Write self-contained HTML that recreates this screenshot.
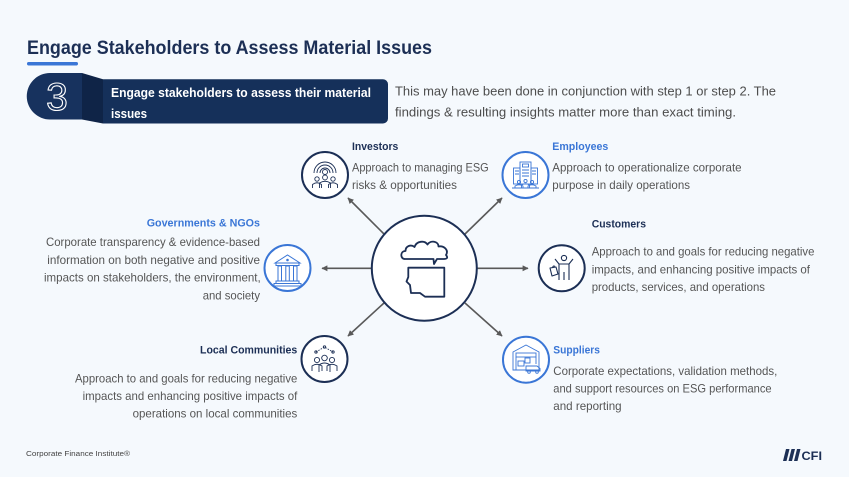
<!DOCTYPE html>
<html>
<head>
<meta charset="utf-8">
<style>
html,body{margin:0;padding:0;background:#f5f9fd;}
svg{display:block;}
text{font-family:"Liberation Sans",Arial,sans-serif;}
</style>
</head>
<body>
<svg width="849" height="477" viewBox="0 0 849 477" xmlns="http://www.w3.org/2000/svg">
<defs>
<marker id="ah" viewBox="0 0 10 10" refX="9" refY="5" markerWidth="6" markerHeight="6" markerUnits="userSpaceOnUse" orient="auto">
<path d="M0,0 L10,5 L0,10 Z" fill="#595959"/>
</marker>
</defs>
<rect x="0" y="0" width="849" height="477" fill="#f5f9fd"/>

<!-- Title -->
<text x="27" y="54" font-size="19" font-weight="bold" fill="#1c2f55" textLength="405" lengthAdjust="spacingAndGlyphs">Engage Stakeholders to Assess Material Issues</text>
<rect x="27" y="62" width="51" height="3.5" rx="1.7" fill="#3a76d6"/>

<!-- Badge -->
<path d="M50,73 H82 V119.5 H50 A23.25,23.25 0 0 1 50,73 Z" fill="#17325e"/>
<path d="M82,73 L103,79.3 L103,123.5 L82,119.5 Z" fill="#0f2447"/>
<path d="M103,79.3 H383 A5,5 0 0 1 388,84.3 V118.5 A5,5 0 0 1 383,123.5 H103 Z" fill="#15305a"/>
<text x="57" y="110" font-size="39" text-anchor="middle" fill="none" stroke="#ffffff" stroke-width="1.1">3</text>
<text x="111" y="97" font-size="12.8" font-weight="bold" fill="#ffffff" textLength="260" lengthAdjust="spacingAndGlyphs">Engage stakeholders to assess their material</text>
<text x="111" y="118" font-size="12.8" font-weight="bold" fill="#ffffff" textLength="36" lengthAdjust="spacingAndGlyphs">issues</text>

<!-- Intro -->
<text x="395" y="95.5" font-size="12.8" fill="#4d4d4d" textLength="381" lengthAdjust="spacingAndGlyphs">This may have been done in conjunction with step 1 or step 2. The</text>
<text x="395" y="116.5" font-size="12.8" fill="#4d4d4d" textLength="341" lengthAdjust="spacingAndGlyphs">findings &amp; resulting insights matter more than exact timing.</text>

<!-- Arrows -->
<g stroke="#595959" stroke-width="1.6" fill="none" marker-end="url(#ah)">
<line x1="384" y1="234" x2="348" y2="198"/>
<line x1="465" y1="234" x2="502" y2="198"/>
<line x1="372" y1="268.3" x2="322" y2="268.3"/>
<line x1="477" y1="268.3" x2="528" y2="268.3"/>
<line x1="384" y1="303" x2="348" y2="336"/>
<line x1="465" y1="303" x2="502" y2="336"/>
</g>

<!-- Center -->
<circle cx="424.3" cy="268.3" r="52.5" fill="#ffffff" stroke="#1c2f55" stroke-width="2"/>
<path d="M405,259 C400,259 400,251 405.5,251 C405.5,246 411,244 414.5,247 C416.5,241 424.5,240 427.5,244.5 C430.5,240 438.5,241 438.5,246.5 C444,245.5 449,250 446,255 C448.5,258 446.5,259 444,259 L437,259 L434,264 L433.5,259 Z" fill="none" stroke="#1c2f55" stroke-width="1.8" stroke-linejoin="round"/>
<path d="M408.3,267.7 L444.3,267.7 L444.3,296.7 L425,296.7 L420,293 L411,293 L410,285 L406.5,281.5 L408.3,277 Z" fill="none" stroke="#1c2f55" stroke-width="1.8" stroke-linejoin="round"/>

<!-- Icon circles -->
<circle cx="325" cy="175" r="23" fill="#ffffff" stroke="#1c2f55" stroke-width="2"/>
<circle cx="525.5" cy="175" r="23" fill="#ffffff" stroke="#3a76d6" stroke-width="2"/>
<circle cx="287.5" cy="268" r="23" fill="#ffffff" stroke="#3a76d6" stroke-width="2"/>
<circle cx="561.7" cy="268.3" r="23" fill="#ffffff" stroke="#1c2f55" stroke-width="2"/>
<circle cx="324.5" cy="359" r="23" fill="#ffffff" stroke="#1c2f55" stroke-width="2"/>
<circle cx="526" cy="359.7" r="23" fill="#ffffff" stroke="#3a76d6" stroke-width="2"/>

<!-- Investors icon -->
<g fill="none" stroke="#1c2f55" stroke-width="0.9">
<path d="M314,173 A11,11 0 0 1 336,173"/>
<path d="M317,173 A8,8 0 0 1 333,173"/>
<path d="M320,173 A5,5 0 0 1 330,173"/>
<circle cx="325" cy="172" r="2.5"/>
<circle cx="317" cy="179" r="2.2"/>
<circle cx="325" cy="177.5" r="2.4"/>
<circle cx="333" cy="179" r="2.2"/>
<path d="M312.5,188 V184.5 Q317,181 321.5,184.5 V188"/>
<path d="M319.5,188 V183 Q325,179.5 330.5,183 V188"/>
<path d="M328.5,188 V184.5 Q333,181 337.5,184.5 V188"/>
</g>

<!-- Employees icon -->
<g fill="none" stroke="#3a76d6" stroke-width="0.9">
<rect x="520" y="162" width="11" height="22"/>
<rect x="513.5" y="168" width="6.5" height="16"/>
<rect x="531" y="168" width="6.5" height="16"/>
<rect x="522.5" y="164" width="6" height="3"/>
<path d="M522,170h7M522,173h7M522,176h7M515,171h4M515,174h4M532,171h4M532,174h4"/>
<circle cx="519" cy="182" r="1.6"/><circle cx="525.5" cy="181" r="1.6"/><circle cx="532" cy="182" r="1.6"/>
<path d="M515,188 V186 Q519,183.5 523,186 V188 M521.5,188 V185 Q525.5,182.5 529.5,185 V188 M528,188 V186 Q532,183.5 536,186 V188"/>
<line x1="512" y1="188" x2="539" y2="188"/>
</g>

<!-- Governments icon -->
<g fill="none" stroke="#3a76d6" stroke-width="1">
<path d="M275,263 L287.5,255 L300,263 Z"/>
<rect x="276" y="263" width="23" height="2.5"/>
<rect x="278" y="266" width="3.5" height="15"/>
<rect x="285.8" y="266" width="3.5" height="15"/>
<rect x="293.5" y="266" width="3.5" height="15"/>
<rect x="276" y="281" width="23" height="2.5"/>
<rect x="274" y="283.5" width="27" height="2.5"/>
<circle cx="287.5" cy="260" r="0.8" fill="#3a76d6"/>
</g>

<!-- Customers icon -->
<g fill="none" stroke="#1c2f55" stroke-width="1.1" stroke-linejoin="round">
<circle cx="564" cy="258" r="2.6"/>
<path d="M555,259 L559,264 L559,280 M569,280 L569,264 L573,259 M559,264 H569 M564,272 V280"/>
<path d="M550,268 L556,267 L558,274 L552,276 Z"/>
<path d="M552.5,268 Q553,265 555,266.5"/>
</g>

<!-- Local Communities icon -->
<g fill="none" stroke="#1c2f55" stroke-width="0.9">
<path d="M316,352 L324.5,347 L333,352" stroke-dasharray="1.5,1.2"/>
<circle cx="316" cy="352" r="1.2"/><circle cx="324.5" cy="347" r="1.2"/><circle cx="333" cy="352" r="1.2"/>
<circle cx="317" cy="360" r="2.6"/><circle cx="324.5" cy="358" r="2.8"/><circle cx="332" cy="360" r="2.6"/>
<path d="M312,371 V366 Q317,362.5 322,366 V371 M319,372 V365 Q324.5,361 330,365 V372 M327,371 V366 Q332,362.5 337,366 V371"/>
</g>

<!-- Suppliers icon -->
<g fill="none" stroke="#3a76d6" stroke-width="0.9">
<path d="M513,352 L526,345 L539,352 V370 H513 Z"/>
<rect x="516" y="353" width="20" height="4"/>
<path d="M516,357 V370 M536,357 V364"/>
<rect x="518" y="361" width="6" height="5"/>
<rect x="525" y="358" width="5" height="5"/>
<path d="M526,366 H537 L540,368.5 V371 H526 Z"/>
<circle cx="529" cy="372" r="1.3"/><circle cx="537" cy="372" r="1.3"/>
</g>

<!-- Investors text -->
<text x="352" y="150" font-size="11" font-weight="bold" fill="#1c2f55" textLength="46.3" lengthAdjust="spacingAndGlyphs">Investors</text>
<g font-size="11.6" fill="#555555">
<text x="352" y="171.5" textLength="136.7" lengthAdjust="spacingAndGlyphs">Approach to managing ESG</text>
<text x="352" y="189" textLength="105" lengthAdjust="spacingAndGlyphs">risks &amp; opportunities</text>
</g>

<!-- Employees text -->
<text x="552.3" y="150" font-size="11" font-weight="bold" fill="#3a76d6" textLength="56" lengthAdjust="spacingAndGlyphs">Employees</text>
<g font-size="11.6" fill="#555555">
<text x="552.3" y="171.5" textLength="189.3" lengthAdjust="spacingAndGlyphs">Approach to operationalize corporate</text>
<text x="552.3" y="189" textLength="137.7" lengthAdjust="spacingAndGlyphs">purpose in daily operations</text>
</g>

<!-- Customers text -->
<text x="591.7" y="227.3" font-size="11" font-weight="bold" fill="#1c2f55" textLength="54.3" lengthAdjust="spacingAndGlyphs">Customers</text>
<g font-size="11.6" fill="#555555">
<text x="591.7" y="255.7" textLength="222.7" lengthAdjust="spacingAndGlyphs">Approach to and goals for reducing negative</text>
<text x="591.7" y="273.3" textLength="218.3" lengthAdjust="spacingAndGlyphs">impacts, and enhancing positive impacts of</text>
<text x="591.7" y="291" textLength="173.3" lengthAdjust="spacingAndGlyphs">products, services, and operations</text>
</g>

<!-- Governments text -->
<text x="146.7" y="226.7" font-size="11" font-weight="bold" fill="#3a76d6" textLength="113.3" lengthAdjust="spacingAndGlyphs">Governments &amp; NGOs</text>
<g font-size="11.6" fill="#555555">
<text x="46" y="246" textLength="214" lengthAdjust="spacingAndGlyphs">Corporate transparency &amp; evidence-based</text>
<text x="47.3" y="264" textLength="212.7" lengthAdjust="spacingAndGlyphs">information on both negative and positive</text>
<text x="44" y="281.7" textLength="216.7" lengthAdjust="spacingAndGlyphs">impacts on stakeholders, the environment,</text>
<text x="202.7" y="299.3" textLength="57.3" lengthAdjust="spacingAndGlyphs">and society</text>
</g>

<!-- Local Communities text -->
<text x="200" y="353.3" font-size="11" font-weight="bold" fill="#1c2f55" textLength="97.3" lengthAdjust="spacingAndGlyphs">Local Communities</text>
<g font-size="11.6" fill="#555555">
<text x="75" y="382.7" textLength="222.3" lengthAdjust="spacingAndGlyphs">Approach to and goals for reducing negative</text>
<text x="82.6" y="400" textLength="214.7" lengthAdjust="spacingAndGlyphs">impacts and enhancing positive impacts of</text>
<text x="132.6" y="417.3" textLength="164.7" lengthAdjust="spacingAndGlyphs">operations on local communities</text>
</g>

<!-- Suppliers text -->
<text x="553.3" y="353.3" font-size="11" font-weight="bold" fill="#3a76d6" textLength="46.7" lengthAdjust="spacingAndGlyphs">Suppliers</text>
<g font-size="11.6" fill="#555555">
<text x="553.3" y="375" textLength="224" lengthAdjust="spacingAndGlyphs">Corporate expectations, validation methods,</text>
<text x="553.3" y="392.7" textLength="218.3" lengthAdjust="spacingAndGlyphs">and support resources on ESG performance</text>
<text x="553.3" y="410" textLength="68.3" lengthAdjust="spacingAndGlyphs">and reporting</text>
</g>

<!-- Footer -->
<text x="26" y="456" font-size="7.6" fill="#444444" textLength="104" lengthAdjust="spacingAndGlyphs">Corporate Finance Institute®</text>
<g fill="#1c2f55">
<path d="M786,449 L789.5,449 L786.5,461 L783,461 Z"/>
<path d="M791.5,449 L795,449 L792,461 L788.5,461 Z"/>
<path d="M797,449 L800.5,449 L797.5,461 L794,461 Z"/>
</g>
<text x="801.5" y="460" font-size="11.5" font-weight="bold" fill="#1c2f55" textLength="20.5" lengthAdjust="spacingAndGlyphs">CFI</text>
</svg>
</body>
</html>
